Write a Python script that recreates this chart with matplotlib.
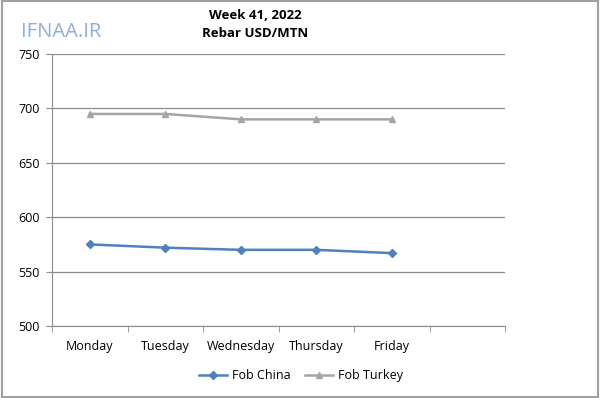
import numpy as np
import matplotlib.pyplot as plt
from matplotlib.patches import Rectangle

# Weekly rebar prices (USD/MTN)
days = ["Monday", "Tuesday", "Wednesday", "Thursday", "Friday"]
fob_china = [575, 572, 570, 570, 567]
fob_turkey = [695, 695, 690, 690, 690]
y_ticks = [500, 550, 600, 650, 700, 750]

plt.rcParams['font.family'] = ['Open Sans', 'DejaVu Sans']

fig = plt.figure(figsize=(6, 3.98), dpi=100)
ax = fig.add_axes([0.0867, 0.181, 0.755, 0.683])

x = np.arange(len(days))
ax.plot(x, fob_china, color="#4F81BD", marker="D", markersize=4, linewidth=1.8, label="Fob China")
ax.plot(x, fob_turkey, color="#A5A5A5", marker="^", markersize=5, linewidth=1.8, label="Fob Turkey")

ax.set_ylim(500, 750)
ax.set_yticks(y_ticks)
ax.yaxis.grid(True, color="#8C8C8C", linewidth=0.9)
ax.set_axisbelow(True)

# 6 category slots, the last one empty
ax.set_xlim(-0.5, 5.5)
ax.set_xticks(x)
ax.set_xticklabels(days)
ax.set_xticks(np.arange(-0.5, 6, 1), minor=True)
ax.tick_params(axis="x", which="major", length=0, pad=10, labelsize=9, colors="#000000")
ax.tick_params(axis="x", which="minor", length=4, color="#8C8C8C")
ax.tick_params(axis="y", length=4, color="#8C8C8C", labelsize=9, pad=5)

for s in ["top", "right"]:
    ax.spines[s].set_visible(False)
for s in ["left", "bottom"]:
    ax.spines[s].set_color("#8C8C8C")

fig.text(0.425, 0.962, "Week 41, 2022", ha="center", va="center", fontsize=9.5, fontweight="bold")
fig.text(0.425, 0.915, "Rebar USD/MTN", ha="center", va="center", fontsize=9.5, fontweight="bold")
fig.text(0.035, 0.92, "IFNAA.IR", ha="left", va="center", fontsize=14.5, color="#8FAEDA")

ax.legend(loc="center", bbox_to_anchor=(0.55, -0.184), ncol=2, frameon=False,
          fontsize=9, handlelength=2.2, handletextpad=0.4, columnspacing=1.2)

fig.patches.append(Rectangle((0.003, 0.003), 0.994, 0.994, transform=fig.transFigure,
                             fill=False, edgecolor="#A0A0A0", linewidth=1.5))

fig.savefig("out.png", dpi=100)
